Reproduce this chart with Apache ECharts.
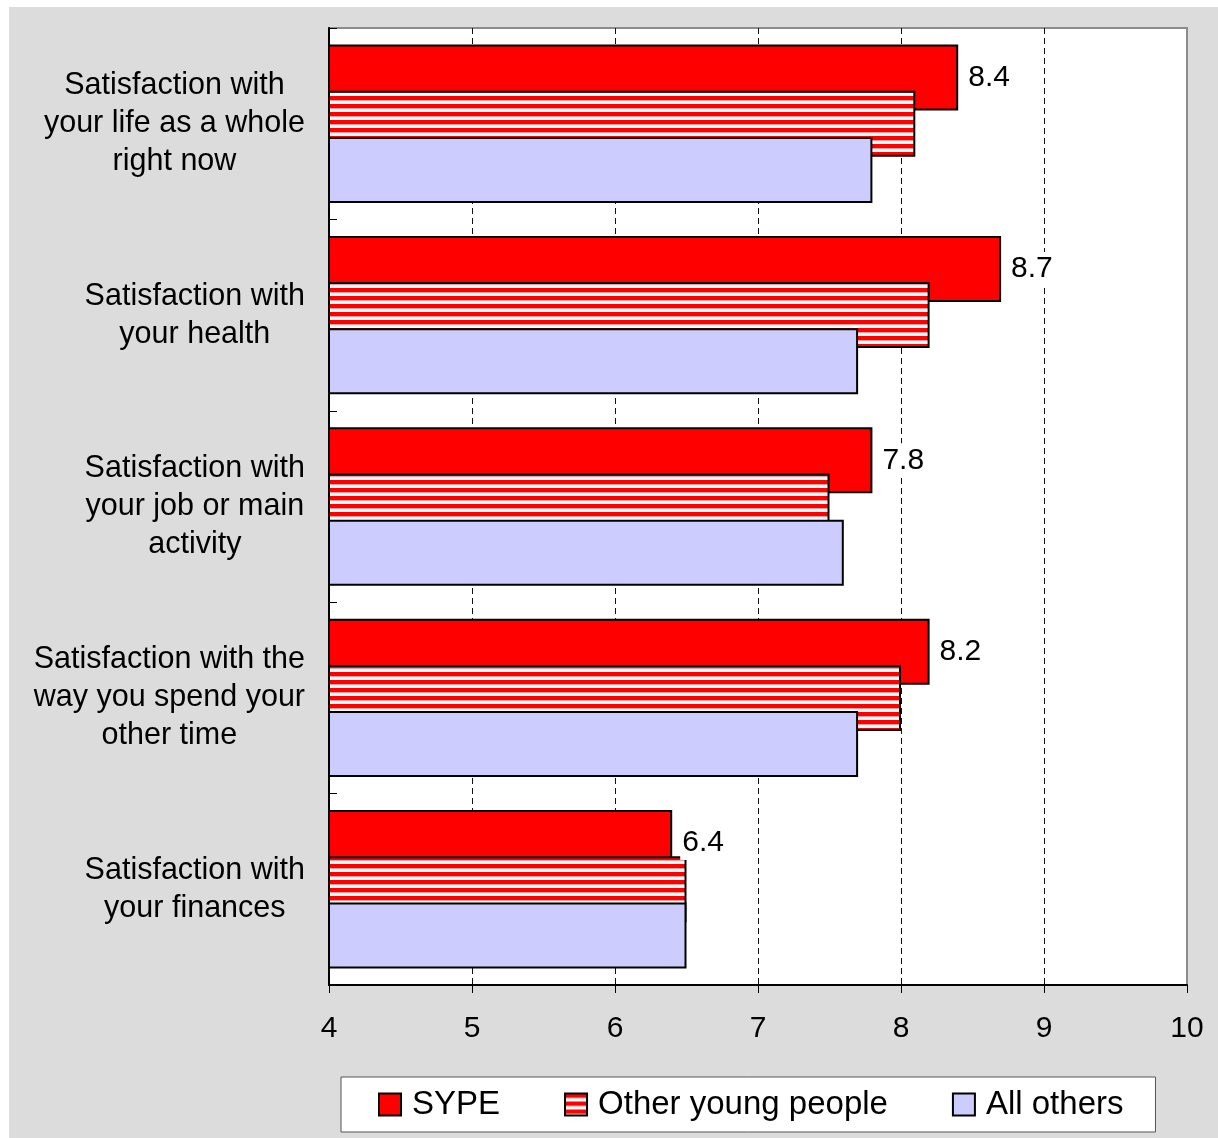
<!DOCTYPE html>
<html>
<head>
<meta charset="utf-8">
<script src="https://cdn.jsdelivr.net/npm/echarts@6/dist/echarts.min.js"></script>
<style>
html,body{margin:0;padding:0;background:#fff;}
#chart{width:1218px;height:1138px;}
</style>
</head>
<body>
<div id="chart"></div>
<script>
var categories = [
  "Satisfaction with\nyour life as a whole\nright now",
  "Satisfaction with\nyour health",
  "Satisfaction with\nyour job or main\nactivity",
  "Satisfaction with the\nway you spend your\nother time",
  "Satisfaction with\nyour finances"
];
var sypeValues = [8.4, 8.7, 7.8, 8.2, 6.4];
var otherYoungValues = [8.1, 8.2, 7.5, 8.0, 6.5];
var allOthersValues = [7.8, 7.7, 7.6, 7.7, 6.5];
var xTicks = [4, 5, 6, 7, 8, 9, 10];

var FONT = 'Liberation Sans, Arial, sans-serif';

// striped pattern
var pc = document.createElement('canvas');
pc.width = 8; pc.height = 8;
var ctx = pc.getContext('2d');
ctx.fillStyle = '#ffffff'; ctx.fillRect(0, 0, 8, 8);
ctx.fillStyle = '#ff0000'; ctx.fillRect(0, 0, 8, 4);
ctx.fillStyle = '#ff9a9a'; ctx.fillRect(0, 4, 8, 1);
var stripe = { image: pc, repeat: 'repeat' };

var chart = echarts.init(document.getElementById('chart'), null, { renderer: 'canvas' });

function catLabel(v) {
  return v.split('\n').map(function (l) { return '{c|' + l + '}'; }).join('\n');
}

var option = {
  backgroundColor: '#ffffff',
  animation: false,
  textStyle: { fontFamily: FONT },
  graphic: [{
    type: 'rect', z: -10, silent: true,
    shape: { x: 9, y: 7, width: 1209, height: 1131 },
    style: { fill: '#dcdcdc' }
  }],
  grid: {
    left: 329, top: 28, right: 31, bottom: 153,
    show: true, backgroundColor: '#ffffff', borderColor: '#8c8c8c', borderWidth: 2,
    containLabel: false
  },
  legend: {
    left: 341, top: 1077,
    itemWidth: 22, itemHeight: 22, itemGap: 64,
    padding: [11, 32, 11, 37],
    backgroundColor: '#ffffff', borderColor: '#555555', borderWidth: 1,
    textStyle: { fontSize: 33, color: '#000', fontFamily: FONT, padding: [0, 0, 0, 6] },
    icon: 'rect',
    data: ['SYPE', 'Other young people', 'All others']
  },
  xAxis: {
    type: 'value', min: 4, max: 10, interval: 1,
    axisLine: { show: true, lineStyle: { color: '#000', width: 2 } },
    axisTick: { show: true, inside: false, length: 8, lineStyle: { color: '#000', width: 1 } },
    axisLabel: { fontSize: 30, color: '#000', margin: 29, fontFamily: FONT,
      formatter: function (v) { return xTicks.indexOf(v) >= 0 ? String(v) : ''; } },
    splitLine: { show: true, showMinLine: false, showMaxLine: false,
      lineStyle: { color: '#111', type: [6, 4], width: 1 } }
  },
  yAxis: {
    type: 'category', inverse: true, data: categories,
    axisLine: { show: true, lineStyle: { color: '#000', width: 2 } },
    axisTick: { show: true, inside: true, length: 8, lineStyle: { color: '#000', width: 1 } },
    axisLabel: {
      margin: 24, color: '#000', fontSize: 30.5, fontFamily: FONT, lineHeight: 38,
      formatter: catLabel,
      rich: { c: { align: 'center', fontSize: 30.5, lineHeight: 38, fontFamily: FONT, color: '#000' } }
    },
    splitLine: { show: false }
  },
  series: [
    {
      name: 'SYPE', type: 'bar', data: sypeValues,
      barWidth: 66, barGap: '-30%',
      itemStyle: { color: '#ff0000', borderColor: '#000', borderWidth: 2 },
      label: { show: true, position: 'right', distance: 8, fontSize: 30, color: '#000',
        fontFamily: FONT, backgroundColor: '#ffffff', padding: [2, 2, 2, 2],
        formatter: function (p) { return p.value.toFixed(1); } }
    },
    {
      name: 'Other young people', type: 'bar', data: otherYoungValues,
      barWidth: 66, barGap: '-30%',
      itemStyle: { color: stripe, borderColor: '#000', borderWidth: 2 }
    },
    {
      name: 'All others', type: 'bar', data: allOthersValues,
      barWidth: 66, barGap: '-30%',
      itemStyle: { color: '#ccccff', borderColor: '#000', borderWidth: 2 }
    }
  ]
};
chart.setOption(option);
</script>
</body>
</html>
